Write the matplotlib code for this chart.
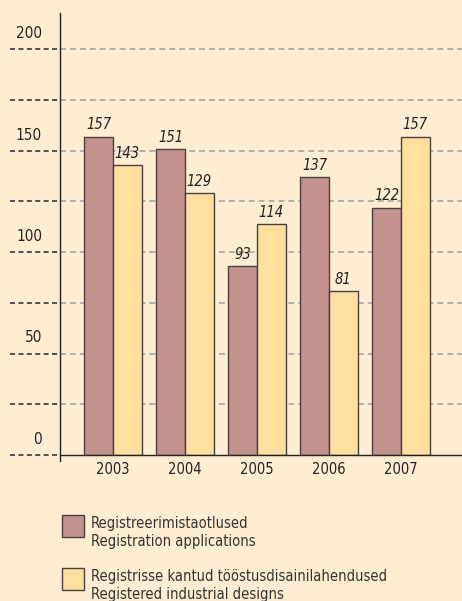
import numpy as np
import matplotlib.pyplot as plt
from matplotlib.patches import Rectangle
import matplotlib.transforms as mtransforms

years = ['2003', '2004', '2005', '2006', '2007']
applications = [157, 151, 93, 137, 122]
registered = [143, 129, 114, 81, 157]
legend_labels = ['Registreerimistaotlused\nRegistration applications',
                 'Registrisse kantud tööstusdisainilahendused\nRegistered industrial designs']

bg = '#FEEDD3'
c_app = '#C4928E'
c_reg = '#FDDFA0'
edge = '#4A4040'

plt.rcParams['font.family'] = ['DejaVu Sans']
plt.rcParams['font.stretch'] = 'condensed'

fig = plt.figure(figsize=(4.62, 6.01), dpi=100, facecolor=bg)
ax = fig.add_axes([60 / 462, 146 / 601, 402 / 462, 442 / 601])
ax.set_facecolor(bg)

x = np.arange(len(years))
w = 0.4
ax.bar(x - w / 2, applications, w, color=c_app, edgecolor=edge, linewidth=1.0, zorder=3)
ax.bar(x + w / 2, registered, w, color=c_reg, edgecolor=edge, linewidth=1.0, zorder=3)

for xi, v in zip(x - w / 2, applications):
    ax.text(xi, v + 2, str(v), ha='center', va='bottom', style='italic', fontsize=10.5, color='#222222')
for xi, v in zip(x + w / 2, registered):
    ax.text(xi, v + 2, str(v), ha='center', va='bottom', style='italic', fontsize=10.5, color='#222222')

ax.set_xlim(-0.736, 4.85)
ax.set_ylim(0, 217.9)

dash = (0, (3.3, 2.2))
levels = np.arange(25, 225, 25)
for lv in levels:
    ax.axhline(lv, color='#AAAAAA', linestyle=dash, linewidth=1.3, zorder=1)

# black dashes left of the axis
trans = mtransforms.blended_transform_factory(ax.transAxes, ax.transData)
for lv in np.arange(0, 225, 25):
    ax.plot([-50 / 402, -2 / 402], [lv, lv], transform=trans, color='#222222',
            linestyle=dash, linewidth=1.1, clip_on=False)

for lv in [0, 50, 100, 150, 200]:
    ax.text(-18 / 402, lv + 4, str(lv), transform=trans, ha='right', va='bottom',
            fontsize=11, color='#222222')

ax.set_yticks([])
ax.set_xticks(x)
ax.set_xticklabels(years, fontsize=10.5, color='#222222')
ax.tick_params(axis='x', length=0, pad=5)

for s in ['top', 'right']:
    ax.spines[s].set_visible(False)
ax.spines['left'].set_color('#222222')
ax.spines['bottom'].set_color('#222222')
ax.spines['left'].set_linewidth(1.0)
ax.spines['bottom'].set_linewidth(1.0)
ax.spines['left'].set_bounds(-3, 217.9)
ax.spines['left'].set_zorder(5)
ax.spines['bottom'].set_zorder(5)

# legend
for i, (lab, col) in enumerate(zip(legend_labels, [c_app, c_reg])):
    top = 515 + i * 53
    fig.patches.append(Rectangle((62 / 462, 1 - (top + 22) / 601), 22 / 462, 22 / 601,
                                 transform=fig.transFigure, facecolor=col, edgecolor=edge,
                                 linewidth=1.0))
    fig.text(91 / 462, 1 - (top + 1) / 601, lab, ha='left', va='top', fontsize=10.5,
             color='#333333', linespacing=1.25)

fig.savefig('out.png', dpi=100, facecolor=bg)
